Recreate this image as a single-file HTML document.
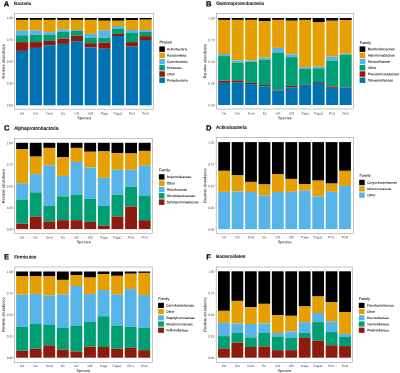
<!DOCTYPE html>
<html><head><meta charset="utf-8"><title>Relative abundance</title>
<style>
html,body{margin:0;padding:0;background:#fff;}
body{width:400px;height:373px;overflow:hidden;font-family:"Liberation Sans",sans-serif;}
svg{display:block;}
</style></head><body>
<svg width="400" height="373" viewBox="0 0 400 373" font-family="'Liberation Sans', sans-serif">
<defs><filter id="bl" x="-5%" y="-5%" width="110%" height="110%"><feGaussianBlur stdDeviation="0.36"/></filter></defs>
<rect x="0" y="0" width="400" height="373" fill="#ffffff"/>
<g filter="url(#bl)" text-rendering="geometricPrecision">
<g>
<text transform="rotate(0.1 3.85 6.45)" x="3.85" y="6.45" font-size="7.6" font-weight="bold" fill="#000" stroke="#000" stroke-width="0.2">A</text>
<text transform="rotate(0.1 14.0 4.9)" x="14.0" y="4.9" font-size="4.7" fill="#000" stroke="#000" stroke-width="0.14">Bacteria</text>
<rect x="16.00" y="18.00" width="12.20" height="1.90" fill="#000000"/>
<rect x="16.00" y="19.90" width="12.20" height="10.80" fill="#E69F00"/>
<rect x="16.00" y="30.70" width="12.20" height="4.60" fill="#56B4E9"/>
<rect x="16.00" y="35.30" width="12.20" height="6.80" fill="#009E73"/>
<rect x="16.00" y="42.10" width="12.20" height="8.80" fill="#8E1B0E"/>
<rect x="16.00" y="50.90" width="12.20" height="54.40" fill="#0072B2"/>
<rect x="29.72" y="18.00" width="12.20" height="1.90" fill="#000000"/>
<rect x="29.72" y="19.90" width="12.20" height="10.50" fill="#E69F00"/>
<rect x="29.72" y="30.40" width="12.20" height="4.40" fill="#56B4E9"/>
<rect x="29.72" y="34.80" width="12.20" height="7.30" fill="#009E73"/>
<rect x="29.72" y="42.10" width="12.20" height="5.80" fill="#8E1B0E"/>
<rect x="29.72" y="47.90" width="12.20" height="57.40" fill="#0072B2"/>
<rect x="43.44" y="18.00" width="12.20" height="1.90" fill="#000000"/>
<rect x="43.44" y="19.90" width="12.20" height="12.20" fill="#E69F00"/>
<rect x="43.44" y="32.10" width="12.20" height="2.70" fill="#56B4E9"/>
<rect x="43.44" y="34.80" width="12.20" height="6.10" fill="#009E73"/>
<rect x="43.44" y="40.90" width="12.20" height="4.40" fill="#8E1B0E"/>
<rect x="43.44" y="45.30" width="12.20" height="60.00" fill="#0072B2"/>
<rect x="57.16" y="18.00" width="12.20" height="1.90" fill="#000000"/>
<rect x="57.16" y="19.90" width="12.20" height="9.60" fill="#E69F00"/>
<rect x="57.16" y="29.50" width="12.20" height="2.30" fill="#56B4E9"/>
<rect x="57.16" y="31.80" width="12.20" height="6.80" fill="#009E73"/>
<rect x="57.16" y="38.60" width="12.20" height="5.30" fill="#8E1B0E"/>
<rect x="57.16" y="43.90" width="12.20" height="61.40" fill="#0072B2"/>
<rect x="70.88" y="18.00" width="12.20" height="1.90" fill="#000000"/>
<rect x="70.88" y="19.90" width="12.20" height="10.10" fill="#E69F00"/>
<rect x="70.88" y="30.00" width="12.20" height="0.90" fill="#56B4E9"/>
<rect x="70.88" y="30.90" width="12.20" height="4.70" fill="#009E73"/>
<rect x="70.88" y="35.60" width="12.20" height="5.60" fill="#8E1B0E"/>
<rect x="70.88" y="41.20" width="12.20" height="64.10" fill="#0072B2"/>
<rect x="84.60" y="18.00" width="12.20" height="1.90" fill="#000000"/>
<rect x="84.60" y="19.90" width="12.20" height="14.00" fill="#E69F00"/>
<rect x="84.60" y="33.90" width="12.20" height="4.00" fill="#56B4E9"/>
<rect x="84.60" y="37.90" width="12.20" height="5.30" fill="#009E73"/>
<rect x="84.60" y="43.20" width="12.20" height="4.20" fill="#8E1B0E"/>
<rect x="84.60" y="47.40" width="12.20" height="57.90" fill="#0072B2"/>
<rect x="98.32" y="18.00" width="12.20" height="2.75" fill="#000000"/>
<rect x="98.32" y="20.75" width="12.20" height="9.65" fill="#E69F00"/>
<rect x="98.32" y="30.40" width="12.20" height="7.50" fill="#56B4E9"/>
<rect x="98.32" y="37.90" width="12.20" height="4.70" fill="#009E73"/>
<rect x="98.32" y="42.60" width="12.20" height="6.15" fill="#8E1B0E"/>
<rect x="98.32" y="48.75" width="12.20" height="56.55" fill="#0072B2"/>
<rect x="112.04" y="18.00" width="12.20" height="2.75" fill="#000000"/>
<rect x="112.04" y="20.75" width="12.20" height="5.25" fill="#E69F00"/>
<rect x="112.04" y="26.00" width="12.20" height="2.60" fill="#56B4E9"/>
<rect x="112.04" y="28.60" width="12.20" height="5.30" fill="#009E73"/>
<rect x="112.04" y="33.90" width="12.20" height="2.10" fill="#8E1B0E"/>
<rect x="112.04" y="36.00" width="12.20" height="69.30" fill="#0072B2"/>
<rect x="125.76" y="18.00" width="12.20" height="2.05" fill="#000000"/>
<rect x="125.76" y="20.05" width="12.20" height="9.95" fill="#E69F00"/>
<rect x="125.76" y="30.00" width="12.20" height="3.00" fill="#56B4E9"/>
<rect x="125.76" y="33.00" width="12.20" height="9.10" fill="#009E73"/>
<rect x="125.76" y="42.10" width="12.20" height="4.55" fill="#8E1B0E"/>
<rect x="125.76" y="46.65" width="12.20" height="58.65" fill="#0072B2"/>
<rect x="139.48" y="18.00" width="12.20" height="1.70" fill="#000000"/>
<rect x="139.48" y="19.70" width="12.20" height="10.30" fill="#E69F00"/>
<rect x="139.48" y="30.00" width="12.20" height="1.80" fill="#56B4E9"/>
<rect x="139.48" y="31.80" width="12.20" height="4.35" fill="#009E73"/>
<rect x="139.48" y="36.15" width="12.20" height="3.85" fill="#8E1B0E"/>
<rect x="139.48" y="40.00" width="12.20" height="65.30" fill="#0072B2"/>
<rect x="14.6" y="13.3" width="139.20" height="95.80" fill="none" stroke="#333333" stroke-width="0.28"/>
<line x1="13.60" x2="14.60" y1="105.30" y2="105.30" stroke="#333333" stroke-width="0.2"/>
<text transform="rotate(0.1 12.80 106.40)" x="12.80" y="106.40" font-size="3.15" text-anchor="end" fill="#3c3c3c">0.00</text>
<line x1="13.60" x2="14.60" y1="83.47" y2="83.47" stroke="#333333" stroke-width="0.2"/>
<text transform="rotate(0.1 12.80 84.57)" x="12.80" y="84.57" font-size="3.15" text-anchor="end" fill="#3c3c3c">0.25</text>
<line x1="13.60" x2="14.60" y1="61.65" y2="61.65" stroke="#333333" stroke-width="0.2"/>
<text transform="rotate(0.1 12.80 62.75)" x="12.80" y="62.75" font-size="3.15" text-anchor="end" fill="#3c3c3c">0.50</text>
<line x1="13.60" x2="14.60" y1="39.83" y2="39.83" stroke="#333333" stroke-width="0.2"/>
<text transform="rotate(0.1 12.80 40.93)" x="12.80" y="40.93" font-size="3.15" text-anchor="end" fill="#3c3c3c">0.75</text>
<line x1="13.60" x2="14.60" y1="18.00" y2="18.00" stroke="#333333" stroke-width="0.2"/>
<text transform="rotate(0.1 12.80 19.10)" x="12.80" y="19.10" font-size="3.15" text-anchor="end" fill="#3c3c3c">1.00</text>
<line x1="22.10" x2="22.10" y1="109.10" y2="110.10" stroke="#333333" stroke-width="0.2"/>
<text transform="rotate(0.1 22.10 114.50)" x="22.10" y="114.50" font-size="3.15" text-anchor="middle" fill="#3c3c3c">Dd</text>
<line x1="35.82" x2="35.82" y1="109.10" y2="110.10" stroke="#333333" stroke-width="0.2"/>
<text transform="rotate(0.1 35.82 114.50)" x="35.82" y="114.50" font-size="3.15" text-anchor="middle" fill="#3c3c3c">Dm</text>
<line x1="49.54" x2="49.54" y1="109.10" y2="110.10" stroke="#333333" stroke-width="0.2"/>
<text transform="rotate(0.1 49.54 114.50)" x="49.54" y="114.50" font-size="3.15" text-anchor="middle" fill="#3c3c3c">Dmd</text>
<line x1="63.26" x2="63.26" y1="109.10" y2="110.10" stroke="#333333" stroke-width="0.2"/>
<text transform="rotate(0.1 63.26 114.50)" x="63.26" y="114.50" font-size="3.15" text-anchor="middle" fill="#3c3c3c">Eu</text>
<line x1="76.98" x2="76.98" y1="109.10" y2="110.10" stroke="#333333" stroke-width="0.2"/>
<text transform="rotate(0.1 76.98 114.50)" x="76.98" y="114.50" font-size="3.15" text-anchor="middle" fill="#3c3c3c">Isf1</text>
<line x1="90.70" x2="90.70" y1="109.10" y2="110.10" stroke="#333333" stroke-width="0.2"/>
<text transform="rotate(0.1 90.70 114.50)" x="90.70" y="114.50" font-size="3.15" text-anchor="middle" fill="#3c3c3c">Isf2</text>
<line x1="104.42" x2="104.42" y1="109.10" y2="110.10" stroke="#333333" stroke-width="0.2"/>
<text transform="rotate(0.1 104.42 114.50)" x="104.42" y="114.50" font-size="3.15" text-anchor="middle" fill="#3c3c3c">Paga</text>
<line x1="118.14" x2="118.14" y1="109.10" y2="110.10" stroke="#333333" stroke-width="0.2"/>
<text transform="rotate(0.1 118.14 114.50)" x="118.14" y="114.50" font-size="3.15" text-anchor="middle" fill="#3c3c3c">Paga1</text>
<line x1="131.86" x2="131.86" y1="109.10" y2="110.10" stroke="#333333" stroke-width="0.2"/>
<text transform="rotate(0.1 131.86 114.50)" x="131.86" y="114.50" font-size="3.15" text-anchor="middle" fill="#3c3c3c">Pm1</text>
<line x1="145.58" x2="145.58" y1="109.10" y2="110.10" stroke="#333333" stroke-width="0.2"/>
<text transform="rotate(0.1 145.58 114.50)" x="145.58" y="114.50" font-size="3.15" text-anchor="middle" fill="#3c3c3c">Pm2</text>
<text transform="rotate(0.1 84.20 119.20)" x="84.20" y="119.20" font-size="3.9" text-anchor="middle" fill="#000">Species</text>
<text transform="translate(4.70,61.20) rotate(-89.9)" font-size="3.9" text-anchor="middle" fill="#000">Relative abundance</text>
<text transform="rotate(0.1 159.6 43.40)" x="159.6" y="43.40" font-size="3.8" fill="#000" stroke="#000" stroke-width="0.04">Phylum</text>
<rect x="159.3" y="46.40" width="5.55" height="5.45" fill="#000000"/>
<text transform="rotate(0.1 166.95 50.27)" x="166.95" y="50.27" font-size="3.2" fill="#000" stroke="#000" stroke-width="0.05">Actinobacteria</text>
<rect x="159.3" y="52.62" width="5.55" height="5.45" fill="#E69F00"/>
<text transform="rotate(0.1 166.95 56.49)" x="166.95" y="56.49" font-size="3.2" fill="#000" stroke="#000" stroke-width="0.05">Bacteroidetes</text>
<rect x="159.3" y="58.84" width="5.55" height="5.45" fill="#56B4E9"/>
<text transform="rotate(0.1 166.95 62.71)" x="166.95" y="62.71" font-size="3.2" fill="#000" stroke="#000" stroke-width="0.05">Cyanobacteria</text>
<rect x="159.3" y="65.06" width="5.55" height="5.45" fill="#009E73"/>
<text transform="rotate(0.1 166.95 68.94)" x="166.95" y="68.94" font-size="3.2" fill="#000" stroke="#000" stroke-width="0.05">Firmicutes</text>
<rect x="159.3" y="71.28" width="5.55" height="5.45" fill="#8E1B0E"/>
<text transform="rotate(0.1 166.95 75.16)" x="166.95" y="75.16" font-size="3.2" fill="#000" stroke="#000" stroke-width="0.05">Other</text>
<rect x="159.3" y="77.50" width="5.55" height="5.45" fill="#0072B2"/>
<text transform="rotate(0.1 166.95 81.38)" x="166.95" y="81.38" font-size="3.2" fill="#000" stroke="#000" stroke-width="0.05">Proteobacteria</text>
</g>
<g>
<text transform="rotate(0.1 205.95 6.45)" x="205.95" y="6.45" font-size="7.6" font-weight="bold" fill="#000" stroke="#000" stroke-width="0.2">B</text>
<text transform="rotate(0.1 216.2 4.9)" x="216.2" y="4.9" font-size="4.8" fill="#000" stroke="#000" stroke-width="0.14">Gammaproteobacteria</text>
<rect x="218.15" y="18.00" width="12.00" height="1.90" fill="#000000"/>
<rect x="218.15" y="19.90" width="12.00" height="34.10" fill="#E69F00"/>
<rect x="218.15" y="54.00" width="12.00" height="2.10" fill="#56B4E9"/>
<rect x="218.15" y="56.10" width="12.00" height="24.50" fill="#009E73"/>
<rect x="218.15" y="80.60" width="12.00" height="2.30" fill="#8E1B0E"/>
<rect x="218.15" y="82.90" width="12.00" height="22.10" fill="#0072B2"/>
<rect x="231.65" y="18.00" width="12.00" height="1.90" fill="#000000"/>
<rect x="231.65" y="19.90" width="12.00" height="40.60" fill="#E69F00"/>
<rect x="231.65" y="60.50" width="12.00" height="2.10" fill="#56B4E9"/>
<rect x="231.65" y="62.60" width="12.00" height="17.70" fill="#009E73"/>
<rect x="231.65" y="80.30" width="12.00" height="1.90" fill="#8E1B0E"/>
<rect x="231.65" y="82.20" width="12.00" height="22.80" fill="#0072B2"/>
<rect x="245.15" y="18.00" width="12.00" height="1.90" fill="#000000"/>
<rect x="245.15" y="19.90" width="12.00" height="40.60" fill="#E69F00"/>
<rect x="245.15" y="60.50" width="12.00" height="1.40" fill="#56B4E9"/>
<rect x="245.15" y="61.90" width="12.00" height="21.00" fill="#009E73"/>
<rect x="245.15" y="82.90" width="12.00" height="1.20" fill="#8E1B0E"/>
<rect x="245.15" y="84.10" width="12.00" height="20.90" fill="#0072B2"/>
<rect x="258.65" y="18.00" width="12.00" height="3.10" fill="#000000"/>
<rect x="258.65" y="21.10" width="12.00" height="36.40" fill="#E69F00"/>
<rect x="258.65" y="57.50" width="12.00" height="2.10" fill="#56B4E9"/>
<rect x="258.65" y="59.60" width="12.00" height="25.40" fill="#009E73"/>
<rect x="258.65" y="85.00" width="12.00" height="1.40" fill="#8E1B0E"/>
<rect x="258.65" y="86.40" width="12.00" height="18.60" fill="#0072B2"/>
<rect x="272.15" y="18.00" width="12.00" height="1.90" fill="#000000"/>
<rect x="272.15" y="19.90" width="12.00" height="28.00" fill="#E69F00"/>
<rect x="272.15" y="47.90" width="12.00" height="4.70" fill="#56B4E9"/>
<rect x="272.15" y="52.60" width="12.00" height="36.80" fill="#009E73"/>
<rect x="272.15" y="89.40" width="12.00" height="0.85" fill="#8E1B0E"/>
<rect x="272.15" y="90.25" width="12.00" height="14.75" fill="#0072B2"/>
<rect x="285.65" y="18.00" width="12.00" height="2.75" fill="#000000"/>
<rect x="285.65" y="20.75" width="12.00" height="33.60" fill="#E69F00"/>
<rect x="285.65" y="54.35" width="12.00" height="2.80" fill="#56B4E9"/>
<rect x="285.65" y="57.15" width="12.00" height="28.75" fill="#009E73"/>
<rect x="285.65" y="85.90" width="12.00" height="1.70" fill="#8E1B0E"/>
<rect x="285.65" y="87.60" width="12.00" height="17.40" fill="#0072B2"/>
<rect x="299.15" y="18.00" width="12.00" height="1.90" fill="#000000"/>
<rect x="299.15" y="19.90" width="12.00" height="47.20" fill="#E69F00"/>
<rect x="299.15" y="67.10" width="12.00" height="1.80" fill="#56B4E9"/>
<rect x="299.15" y="68.90" width="12.00" height="15.20" fill="#009E73"/>
<rect x="299.15" y="84.10" width="12.00" height="0.55" fill="#8E1B0E"/>
<rect x="299.15" y="84.65" width="12.00" height="20.35" fill="#0072B2"/>
<rect x="312.65" y="18.00" width="12.00" height="4.00" fill="#000000"/>
<rect x="312.65" y="22.00" width="12.00" height="44.60" fill="#E69F00"/>
<rect x="312.65" y="66.60" width="12.00" height="1.75" fill="#56B4E9"/>
<rect x="312.65" y="68.35" width="12.00" height="13.65" fill="#009E73"/>
<rect x="312.65" y="82.00" width="12.00" height="0.90" fill="#8E1B0E"/>
<rect x="312.65" y="82.90" width="12.00" height="22.10" fill="#0072B2"/>
<rect x="326.15" y="18.00" width="12.00" height="2.75" fill="#000000"/>
<rect x="326.15" y="20.75" width="12.00" height="35.85" fill="#E69F00"/>
<rect x="326.15" y="56.60" width="12.00" height="4.05" fill="#56B4E9"/>
<rect x="326.15" y="60.65" width="12.00" height="25.75" fill="#009E73"/>
<rect x="326.15" y="86.40" width="12.00" height="1.40" fill="#8E1B0E"/>
<rect x="326.15" y="87.80" width="12.00" height="17.20" fill="#0072B2"/>
<rect x="339.65" y="18.00" width="12.00" height="2.05" fill="#000000"/>
<rect x="339.65" y="20.05" width="12.00" height="33.60" fill="#E69F00"/>
<rect x="339.65" y="53.65" width="12.00" height="1.05" fill="#56B4E9"/>
<rect x="339.65" y="54.70" width="12.00" height="32.60" fill="#009E73"/>
<rect x="339.65" y="87.30" width="12.00" height="0.50" fill="#8E1B0E"/>
<rect x="339.65" y="87.80" width="12.00" height="17.20" fill="#0072B2"/>
<rect x="216.2" y="13.3" width="137.30" height="95.70" fill="none" stroke="#333333" stroke-width="0.28"/>
<line x1="215.20" x2="216.20" y1="105.00" y2="105.00" stroke="#333333" stroke-width="0.2"/>
<text transform="rotate(0.1 214.40 106.55)" x="214.40" y="106.55" font-size="3.15" text-anchor="end" fill="#3c3c3c">0.00</text>
<line x1="215.20" x2="216.20" y1="83.25" y2="83.25" stroke="#333333" stroke-width="0.2"/>
<text transform="rotate(0.1 214.40 84.80)" x="214.40" y="84.80" font-size="3.15" text-anchor="end" fill="#3c3c3c">0.25</text>
<line x1="215.20" x2="216.20" y1="61.50" y2="61.50" stroke="#333333" stroke-width="0.2"/>
<text transform="rotate(0.1 214.40 63.05)" x="214.40" y="63.05" font-size="3.15" text-anchor="end" fill="#3c3c3c">0.50</text>
<line x1="215.20" x2="216.20" y1="39.75" y2="39.75" stroke="#333333" stroke-width="0.2"/>
<text transform="rotate(0.1 214.40 41.30)" x="214.40" y="41.30" font-size="3.15" text-anchor="end" fill="#3c3c3c">0.75</text>
<line x1="215.20" x2="216.20" y1="18.00" y2="18.00" stroke="#333333" stroke-width="0.2"/>
<text transform="rotate(0.1 214.40 19.55)" x="214.40" y="19.55" font-size="3.15" text-anchor="end" fill="#3c3c3c">1.00</text>
<line x1="224.15" x2="224.15" y1="109.00" y2="110.00" stroke="#333333" stroke-width="0.2"/>
<text transform="rotate(0.1 224.15 114.40)" x="224.15" y="114.40" font-size="3.15" text-anchor="middle" fill="#3c3c3c">Dd</text>
<line x1="237.65" x2="237.65" y1="109.00" y2="110.00" stroke="#333333" stroke-width="0.2"/>
<text transform="rotate(0.1 237.65 114.40)" x="237.65" y="114.40" font-size="3.15" text-anchor="middle" fill="#3c3c3c">Dm</text>
<line x1="251.15" x2="251.15" y1="109.00" y2="110.00" stroke="#333333" stroke-width="0.2"/>
<text transform="rotate(0.1 251.15 114.40)" x="251.15" y="114.40" font-size="3.15" text-anchor="middle" fill="#3c3c3c">Dmd</text>
<line x1="264.65" x2="264.65" y1="109.00" y2="110.00" stroke="#333333" stroke-width="0.2"/>
<text transform="rotate(0.1 264.65 114.40)" x="264.65" y="114.40" font-size="3.15" text-anchor="middle" fill="#3c3c3c">Eu</text>
<line x1="278.15" x2="278.15" y1="109.00" y2="110.00" stroke="#333333" stroke-width="0.2"/>
<text transform="rotate(0.1 278.15 114.40)" x="278.15" y="114.40" font-size="3.15" text-anchor="middle" fill="#3c3c3c">Isf1</text>
<line x1="291.65" x2="291.65" y1="109.00" y2="110.00" stroke="#333333" stroke-width="0.2"/>
<text transform="rotate(0.1 291.65 114.40)" x="291.65" y="114.40" font-size="3.15" text-anchor="middle" fill="#3c3c3c">Isf2</text>
<line x1="305.15" x2="305.15" y1="109.00" y2="110.00" stroke="#333333" stroke-width="0.2"/>
<text transform="rotate(0.1 305.15 114.40)" x="305.15" y="114.40" font-size="3.15" text-anchor="middle" fill="#3c3c3c">Paga</text>
<line x1="318.65" x2="318.65" y1="109.00" y2="110.00" stroke="#333333" stroke-width="0.2"/>
<text transform="rotate(0.1 318.65 114.40)" x="318.65" y="114.40" font-size="3.15" text-anchor="middle" fill="#3c3c3c">Paga1</text>
<line x1="332.15" x2="332.15" y1="109.00" y2="110.00" stroke="#333333" stroke-width="0.2"/>
<text transform="rotate(0.1 332.15 114.40)" x="332.15" y="114.40" font-size="3.15" text-anchor="middle" fill="#3c3c3c">Pm1</text>
<line x1="345.65" x2="345.65" y1="109.00" y2="110.00" stroke="#333333" stroke-width="0.2"/>
<text transform="rotate(0.1 345.65 114.40)" x="345.65" y="114.40" font-size="3.15" text-anchor="middle" fill="#3c3c3c">Pm2</text>
<text transform="rotate(0.1 284.85 119.20)" x="284.85" y="119.20" font-size="3.9" text-anchor="middle" fill="#000">Species</text>
<text transform="translate(206.30,61.15) rotate(-89.9)" font-size="3.9" text-anchor="middle" fill="#000">Relative abundance</text>
<text transform="rotate(0.1 359.7 44.00)" x="359.7" y="44.00" font-size="3.8" fill="#000" stroke="#000" stroke-width="0.04">Family</text>
<rect x="359.6" y="46.40" width="5.7" height="5.45" fill="#000000"/>
<text transform="rotate(0.1 367.9 50.27)" x="367.9" y="50.27" font-size="3.45" fill="#000" stroke="#000" stroke-width="0.05">Burkholderiaceae</text>
<rect x="359.6" y="52.62" width="5.7" height="5.45" fill="#E69F00"/>
<text transform="rotate(0.1 367.9 56.49)" x="367.9" y="56.49" font-size="3.45" fill="#000" stroke="#000" stroke-width="0.05">Halomonadaceae</text>
<rect x="359.6" y="58.84" width="5.7" height="5.45" fill="#56B4E9"/>
<text transform="rotate(0.1 367.9 62.71)" x="367.9" y="62.71" font-size="3.45" fill="#000" stroke="#000" stroke-width="0.05">Moraxellaceae</text>
<rect x="359.6" y="65.06" width="5.7" height="5.45" fill="#009E73"/>
<text transform="rotate(0.1 367.9 68.94)" x="367.9" y="68.94" font-size="3.45" fill="#000" stroke="#000" stroke-width="0.05">Other</text>
<rect x="359.6" y="71.28" width="5.7" height="5.45" fill="#8E1B0E"/>
<text transform="rotate(0.1 367.9 75.16)" x="367.9" y="75.16" font-size="3.45" fill="#000" stroke="#000" stroke-width="0.05">Pseudomonadaceae</text>
<rect x="359.6" y="77.50" width="5.7" height="5.45" fill="#0072B2"/>
<text transform="rotate(0.1 367.9 81.38)" x="367.9" y="81.38" font-size="3.45" fill="#000" stroke="#000" stroke-width="0.05">Shewanellaceae</text>
</g>
<g>
<text transform="rotate(0.1 3.9 130.6)" x="3.9" y="130.6" font-size="7.6" font-weight="bold" fill="#000" stroke="#000" stroke-width="0.2">C</text>
<text transform="rotate(0.1 14.2 129.9)" x="14.2" y="129.9" font-size="4.95" fill="#000" stroke="#000" stroke-width="0.14">Alphaproteobacteria</text>
<rect x="16.15" y="142.80" width="11.90" height="6.30" fill="#000000"/>
<rect x="16.15" y="149.10" width="11.90" height="34.15" fill="#E69F00"/>
<rect x="16.15" y="183.25" width="11.90" height="16.25" fill="#56B4E9"/>
<rect x="16.15" y="199.50" width="11.90" height="24.15" fill="#009E73"/>
<rect x="16.15" y="223.65" width="11.90" height="5.45" fill="#8E1B0E"/>
<rect x="29.77" y="142.80" width="11.90" height="13.85" fill="#000000"/>
<rect x="29.77" y="156.65" width="11.90" height="17.50" fill="#E69F00"/>
<rect x="29.77" y="174.15" width="11.90" height="18.25" fill="#56B4E9"/>
<rect x="29.77" y="192.40" width="11.90" height="24.10" fill="#009E73"/>
<rect x="29.77" y="216.50" width="11.90" height="12.60" fill="#8E1B0E"/>
<rect x="43.39" y="142.80" width="11.90" height="5.10" fill="#000000"/>
<rect x="43.39" y="147.90" width="11.90" height="17.50" fill="#E69F00"/>
<rect x="43.39" y="165.40" width="11.90" height="40.20" fill="#56B4E9"/>
<rect x="43.39" y="205.60" width="11.90" height="15.80" fill="#009E73"/>
<rect x="43.39" y="221.40" width="11.90" height="7.70" fill="#8E1B0E"/>
<rect x="57.01" y="142.80" width="11.90" height="14.55" fill="#000000"/>
<rect x="57.01" y="157.35" width="11.90" height="18.55" fill="#E69F00"/>
<rect x="57.01" y="175.90" width="11.90" height="20.50" fill="#56B4E9"/>
<rect x="57.01" y="196.40" width="11.90" height="23.75" fill="#009E73"/>
<rect x="57.01" y="220.15" width="11.90" height="8.95" fill="#8E1B0E"/>
<rect x="70.63" y="142.80" width="11.90" height="5.10" fill="#000000"/>
<rect x="70.63" y="147.90" width="11.90" height="14.00" fill="#E69F00"/>
<rect x="70.63" y="161.90" width="11.90" height="33.10" fill="#56B4E9"/>
<rect x="70.63" y="195.00" width="11.90" height="25.15" fill="#009E73"/>
<rect x="70.63" y="220.15" width="11.90" height="8.95" fill="#8E1B0E"/>
<rect x="84.25" y="142.80" width="11.90" height="8.95" fill="#000000"/>
<rect x="84.25" y="151.75" width="11.90" height="15.75" fill="#E69F00"/>
<rect x="84.25" y="167.50" width="11.90" height="31.10" fill="#56B4E9"/>
<rect x="84.25" y="198.60" width="11.90" height="23.30" fill="#009E73"/>
<rect x="84.25" y="221.90" width="11.90" height="7.20" fill="#8E1B0E"/>
<rect x="97.87" y="142.80" width="11.90" height="8.60" fill="#000000"/>
<rect x="97.87" y="151.40" width="11.90" height="26.40" fill="#E69F00"/>
<rect x="97.87" y="177.80" width="11.90" height="28.20" fill="#56B4E9"/>
<rect x="97.87" y="206.00" width="11.90" height="19.75" fill="#009E73"/>
<rect x="97.87" y="225.75" width="11.90" height="3.35" fill="#8E1B0E"/>
<rect x="111.49" y="142.80" width="11.90" height="10.35" fill="#000000"/>
<rect x="111.49" y="153.15" width="11.90" height="16.65" fill="#E69F00"/>
<rect x="111.49" y="169.80" width="11.90" height="24.80" fill="#56B4E9"/>
<rect x="111.49" y="194.60" width="11.90" height="21.90" fill="#009E73"/>
<rect x="111.49" y="216.50" width="11.90" height="12.60" fill="#8E1B0E"/>
<rect x="125.11" y="142.80" width="11.90" height="10.70" fill="#000000"/>
<rect x="125.11" y="153.50" width="11.90" height="16.30" fill="#E69F00"/>
<rect x="125.11" y="169.80" width="11.90" height="17.00" fill="#56B4E9"/>
<rect x="125.11" y="186.80" width="11.90" height="19.70" fill="#009E73"/>
<rect x="125.11" y="206.50" width="11.90" height="22.60" fill="#8E1B0E"/>
<rect x="138.73" y="142.80" width="11.90" height="8.10" fill="#000000"/>
<rect x="138.73" y="150.90" width="11.90" height="14.85" fill="#E69F00"/>
<rect x="138.73" y="165.75" width="11.90" height="29.85" fill="#56B4E9"/>
<rect x="138.73" y="195.60" width="11.90" height="24.55" fill="#009E73"/>
<rect x="138.73" y="220.15" width="11.90" height="8.95" fill="#8E1B0E"/>
<rect x="14.6" y="138.4" width="138.20" height="95.40" fill="none" stroke="#333333" stroke-width="0.28"/>
<line x1="13.60" x2="14.60" y1="229.10" y2="229.10" stroke="#333333" stroke-width="0.2"/>
<text transform="rotate(0.1 12.80 230.60)" x="12.80" y="230.60" font-size="3.15" text-anchor="end" fill="#3c3c3c">0.00</text>
<line x1="13.60" x2="14.60" y1="207.53" y2="207.53" stroke="#333333" stroke-width="0.2"/>
<text transform="rotate(0.1 12.80 209.03)" x="12.80" y="209.03" font-size="3.15" text-anchor="end" fill="#3c3c3c">0.25</text>
<line x1="13.60" x2="14.60" y1="185.95" y2="185.95" stroke="#333333" stroke-width="0.2"/>
<text transform="rotate(0.1 12.80 187.45)" x="12.80" y="187.45" font-size="3.15" text-anchor="end" fill="#3c3c3c">0.50</text>
<line x1="13.60" x2="14.60" y1="164.38" y2="164.38" stroke="#333333" stroke-width="0.2"/>
<text transform="rotate(0.1 12.80 165.88)" x="12.80" y="165.88" font-size="3.15" text-anchor="end" fill="#3c3c3c">0.75</text>
<line x1="13.60" x2="14.60" y1="142.80" y2="142.80" stroke="#333333" stroke-width="0.2"/>
<text transform="rotate(0.1 12.80 144.30)" x="12.80" y="144.30" font-size="3.15" text-anchor="end" fill="#3c3c3c">1.00</text>
<line x1="22.10" x2="22.10" y1="233.80" y2="234.80" stroke="#333333" stroke-width="0.2"/>
<text transform="rotate(0.1 22.10 238.60)" x="22.10" y="238.60" font-size="3.15" text-anchor="middle" fill="#3c3c3c">Dd</text>
<line x1="35.72" x2="35.72" y1="233.80" y2="234.80" stroke="#333333" stroke-width="0.2"/>
<text transform="rotate(0.1 35.72 238.60)" x="35.72" y="238.60" font-size="3.15" text-anchor="middle" fill="#3c3c3c">Dm</text>
<line x1="49.34" x2="49.34" y1="233.80" y2="234.80" stroke="#333333" stroke-width="0.2"/>
<text transform="rotate(0.1 49.34 238.60)" x="49.34" y="238.60" font-size="3.15" text-anchor="middle" fill="#3c3c3c">Dmd</text>
<line x1="62.96" x2="62.96" y1="233.80" y2="234.80" stroke="#333333" stroke-width="0.2"/>
<text transform="rotate(0.1 62.96 238.60)" x="62.96" y="238.60" font-size="3.15" text-anchor="middle" fill="#3c3c3c">Eu</text>
<line x1="76.58" x2="76.58" y1="233.80" y2="234.80" stroke="#333333" stroke-width="0.2"/>
<text transform="rotate(0.1 76.58 238.60)" x="76.58" y="238.60" font-size="3.15" text-anchor="middle" fill="#3c3c3c">Isf1</text>
<line x1="90.20" x2="90.20" y1="233.80" y2="234.80" stroke="#333333" stroke-width="0.2"/>
<text transform="rotate(0.1 90.20 238.60)" x="90.20" y="238.60" font-size="3.15" text-anchor="middle" fill="#3c3c3c">Isf2</text>
<line x1="103.82" x2="103.82" y1="233.80" y2="234.80" stroke="#333333" stroke-width="0.2"/>
<text transform="rotate(0.1 103.82 238.60)" x="103.82" y="238.60" font-size="3.15" text-anchor="middle" fill="#3c3c3c">Paga</text>
<line x1="117.44" x2="117.44" y1="233.80" y2="234.80" stroke="#333333" stroke-width="0.2"/>
<text transform="rotate(0.1 117.44 238.60)" x="117.44" y="238.60" font-size="3.15" text-anchor="middle" fill="#3c3c3c">Paga1</text>
<line x1="131.06" x2="131.06" y1="233.80" y2="234.80" stroke="#333333" stroke-width="0.2"/>
<text transform="rotate(0.1 131.06 238.60)" x="131.06" y="238.60" font-size="3.15" text-anchor="middle" fill="#3c3c3c">Pm1</text>
<line x1="144.68" x2="144.68" y1="233.80" y2="234.80" stroke="#333333" stroke-width="0.2"/>
<text transform="rotate(0.1 144.68 238.60)" x="144.68" y="238.60" font-size="3.15" text-anchor="middle" fill="#3c3c3c">Pm2</text>
<text transform="rotate(0.1 83.70 243.30)" x="83.70" y="243.30" font-size="3.9" text-anchor="middle" fill="#000">Species</text>
<text transform="translate(4.70,186.10) rotate(-89.9)" font-size="3.9" text-anchor="middle" fill="#000">Relative abundance</text>
<text transform="rotate(0.1 158.9 171.30)" x="158.9" y="171.30" font-size="3.8" fill="#000" stroke="#000" stroke-width="0.04">Family</text>
<rect x="158.9" y="174.20" width="5.55" height="5.45" fill="#000000"/>
<text transform="rotate(0.1 166.7 178.07)" x="166.7" y="178.07" font-size="3.4" fill="#000" stroke="#000" stroke-width="0.05">Beijerinckiaceae</text>
<rect x="158.9" y="180.50" width="5.55" height="5.45" fill="#E69F00"/>
<text transform="rotate(0.1 166.7 184.38)" x="166.7" y="184.38" font-size="3.4" fill="#000" stroke="#000" stroke-width="0.05">Other</text>
<rect x="158.9" y="186.80" width="5.55" height="5.45" fill="#56B4E9"/>
<text transform="rotate(0.1 166.7 190.67)" x="166.7" y="190.67" font-size="3.4" fill="#000" stroke="#000" stroke-width="0.05">Rhizobiaceae</text>
<rect x="158.9" y="193.10" width="5.55" height="5.45" fill="#009E73"/>
<text transform="rotate(0.1 166.7 196.97)" x="166.7" y="196.97" font-size="3.4" fill="#000" stroke="#000" stroke-width="0.05">Rhodobacteraceae</text>
<rect x="158.9" y="199.40" width="5.55" height="5.45" fill="#8E1B0E"/>
<text transform="rotate(0.1 166.7 203.27)" x="166.7" y="203.27" font-size="3.4" fill="#000" stroke="#000" stroke-width="0.05">Sphingomonadaceae</text>
</g>
<g>
<text transform="rotate(0.1 206.0 130.6)" x="206.0" y="130.6" font-size="7.6" font-weight="bold" fill="#000" stroke="#000" stroke-width="0.2">D</text>
<text transform="rotate(0.1 216.0 128.9)" x="216.0" y="128.9" font-size="4.85" fill="#000" stroke="#000" stroke-width="0.14">Actinobacteria</text>
<rect x="218.25" y="142.10" width="11.80" height="28.75" fill="#000000"/>
<rect x="218.25" y="170.85" width="11.80" height="21.00" fill="#E69F00"/>
<rect x="218.25" y="191.85" width="11.80" height="37.25" fill="#56B4E9"/>
<rect x="231.68" y="142.10" width="11.80" height="33.30" fill="#000000"/>
<rect x="231.68" y="175.40" width="11.80" height="16.10" fill="#E69F00"/>
<rect x="231.68" y="191.50" width="11.80" height="37.60" fill="#56B4E9"/>
<rect x="245.11" y="142.10" width="11.80" height="39.80" fill="#000000"/>
<rect x="245.11" y="181.90" width="11.80" height="10.10" fill="#E69F00"/>
<rect x="245.11" y="192.00" width="11.80" height="37.10" fill="#56B4E9"/>
<rect x="258.54" y="142.10" width="11.80" height="42.40" fill="#000000"/>
<rect x="258.54" y="184.50" width="11.80" height="11.00" fill="#E69F00"/>
<rect x="258.54" y="195.50" width="11.80" height="33.60" fill="#56B4E9"/>
<rect x="271.97" y="142.10" width="11.80" height="31.90" fill="#000000"/>
<rect x="271.97" y="174.00" width="11.80" height="18.00" fill="#E69F00"/>
<rect x="271.97" y="192.00" width="11.80" height="37.10" fill="#56B4E9"/>
<rect x="285.40" y="142.10" width="11.80" height="36.80" fill="#000000"/>
<rect x="285.40" y="178.90" width="11.80" height="12.95" fill="#E69F00"/>
<rect x="285.40" y="191.85" width="11.80" height="37.25" fill="#56B4E9"/>
<rect x="298.83" y="142.10" width="11.80" height="41.90" fill="#000000"/>
<rect x="298.83" y="184.00" width="11.80" height="6.60" fill="#E69F00"/>
<rect x="298.83" y="190.60" width="11.80" height="38.50" fill="#56B4E9"/>
<rect x="312.26" y="142.10" width="11.80" height="38.55" fill="#000000"/>
<rect x="312.26" y="180.65" width="11.80" height="15.75" fill="#E69F00"/>
<rect x="312.26" y="196.40" width="11.80" height="32.70" fill="#56B4E9"/>
<rect x="325.69" y="142.10" width="11.80" height="41.50" fill="#000000"/>
<rect x="325.69" y="183.60" width="11.80" height="8.25" fill="#E69F00"/>
<rect x="325.69" y="191.85" width="11.80" height="37.25" fill="#56B4E9"/>
<rect x="339.12" y="142.10" width="11.80" height="28.75" fill="#000000"/>
<rect x="339.12" y="170.85" width="11.80" height="15.05" fill="#E69F00"/>
<rect x="339.12" y="185.90" width="11.80" height="43.20" fill="#56B4E9"/>
<rect x="216.1" y="137.6" width="137.10" height="95.90" fill="none" stroke="#333333" stroke-width="0.28"/>
<line x1="215.10" x2="216.10" y1="229.10" y2="229.10" stroke="#333333" stroke-width="0.2"/>
<text transform="rotate(0.1 214.30 230.65)" x="214.30" y="230.65" font-size="3.15" text-anchor="end" fill="#3c3c3c">0.00</text>
<line x1="215.10" x2="216.10" y1="207.35" y2="207.35" stroke="#333333" stroke-width="0.2"/>
<text transform="rotate(0.1 214.30 208.90)" x="214.30" y="208.90" font-size="3.15" text-anchor="end" fill="#3c3c3c">0.25</text>
<line x1="215.10" x2="216.10" y1="185.60" y2="185.60" stroke="#333333" stroke-width="0.2"/>
<text transform="rotate(0.1 214.30 187.15)" x="214.30" y="187.15" font-size="3.15" text-anchor="end" fill="#3c3c3c">0.50</text>
<line x1="215.10" x2="216.10" y1="163.85" y2="163.85" stroke="#333333" stroke-width="0.2"/>
<text transform="rotate(0.1 214.30 165.40)" x="214.30" y="165.40" font-size="3.15" text-anchor="end" fill="#3c3c3c">0.75</text>
<line x1="215.10" x2="216.10" y1="142.10" y2="142.10" stroke="#333333" stroke-width="0.2"/>
<text transform="rotate(0.1 214.30 143.65)" x="214.30" y="143.65" font-size="3.15" text-anchor="end" fill="#3c3c3c">1.00</text>
<line x1="224.15" x2="224.15" y1="233.50" y2="234.50" stroke="#333333" stroke-width="0.2"/>
<text transform="rotate(0.1 224.15 238.30)" x="224.15" y="238.30" font-size="3.15" text-anchor="middle" fill="#3c3c3c">Dd</text>
<line x1="237.58" x2="237.58" y1="233.50" y2="234.50" stroke="#333333" stroke-width="0.2"/>
<text transform="rotate(0.1 237.58 238.30)" x="237.58" y="238.30" font-size="3.15" text-anchor="middle" fill="#3c3c3c">Dm</text>
<line x1="251.01" x2="251.01" y1="233.50" y2="234.50" stroke="#333333" stroke-width="0.2"/>
<text transform="rotate(0.1 251.01 238.30)" x="251.01" y="238.30" font-size="3.15" text-anchor="middle" fill="#3c3c3c">Dmd</text>
<line x1="264.44" x2="264.44" y1="233.50" y2="234.50" stroke="#333333" stroke-width="0.2"/>
<text transform="rotate(0.1 264.44 238.30)" x="264.44" y="238.30" font-size="3.15" text-anchor="middle" fill="#3c3c3c">Eu</text>
<line x1="277.87" x2="277.87" y1="233.50" y2="234.50" stroke="#333333" stroke-width="0.2"/>
<text transform="rotate(0.1 277.87 238.30)" x="277.87" y="238.30" font-size="3.15" text-anchor="middle" fill="#3c3c3c">Isf1</text>
<line x1="291.30" x2="291.30" y1="233.50" y2="234.50" stroke="#333333" stroke-width="0.2"/>
<text transform="rotate(0.1 291.30 238.30)" x="291.30" y="238.30" font-size="3.15" text-anchor="middle" fill="#3c3c3c">Isf2</text>
<line x1="304.73" x2="304.73" y1="233.50" y2="234.50" stroke="#333333" stroke-width="0.2"/>
<text transform="rotate(0.1 304.73 238.30)" x="304.73" y="238.30" font-size="3.15" text-anchor="middle" fill="#3c3c3c">Paga</text>
<line x1="318.16" x2="318.16" y1="233.50" y2="234.50" stroke="#333333" stroke-width="0.2"/>
<text transform="rotate(0.1 318.16 238.30)" x="318.16" y="238.30" font-size="3.15" text-anchor="middle" fill="#3c3c3c">Paga1</text>
<line x1="331.59" x2="331.59" y1="233.50" y2="234.50" stroke="#333333" stroke-width="0.2"/>
<text transform="rotate(0.1 331.59 238.30)" x="331.59" y="238.30" font-size="3.15" text-anchor="middle" fill="#3c3c3c">Pm1</text>
<line x1="345.02" x2="345.02" y1="233.50" y2="234.50" stroke="#333333" stroke-width="0.2"/>
<text transform="rotate(0.1 345.02 238.30)" x="345.02" y="238.30" font-size="3.15" text-anchor="middle" fill="#3c3c3c">Pm2</text>
<text transform="rotate(0.1 284.65 243.30)" x="284.65" y="243.30" font-size="3.9" text-anchor="middle" fill="#000">Species</text>
<text transform="translate(206.20,185.55) rotate(-89.9)" font-size="3.9" text-anchor="middle" fill="#000">Relative abundance</text>
<text transform="rotate(0.1 359.5 176.80)" x="359.5" y="176.80" font-size="3.8" fill="#000" stroke="#000" stroke-width="0.04">Family</text>
<rect x="359.2" y="179.80" width="5.5" height="5.45" fill="#000000"/>
<text transform="rotate(0.1 367.2 183.68)" x="367.2" y="183.68" font-size="3.35" fill="#000" stroke="#000" stroke-width="0.05">Corynebacteriaceae</text>
<rect x="359.2" y="186.10" width="5.5" height="5.45" fill="#E69F00"/>
<text transform="rotate(0.1 367.2 189.98)" x="367.2" y="189.98" font-size="3.35" fill="#000" stroke="#000" stroke-width="0.05">Micrococcaceae</text>
<rect x="359.2" y="192.40" width="5.5" height="5.45" fill="#56B4E9"/>
<text transform="rotate(0.1 367.2 196.28)" x="367.2" y="196.28" font-size="3.35" fill="#000" stroke="#000" stroke-width="0.05">Other</text>
</g>
<g>
<text transform="rotate(0.1 4.0 259.6)" x="4.0" y="259.6" font-size="7.6" font-weight="bold" fill="#000" stroke="#000" stroke-width="0.2">E</text>
<text transform="rotate(0.1 14.2 258.5)" x="14.2" y="258.5" font-size="4.8" fill="#000" stroke="#000" stroke-width="0.14">Firmicutes</text>
<rect x="16.15" y="271.50" width="11.90" height="4.50" fill="#000000"/>
<rect x="16.15" y="276.00" width="11.90" height="18.75" fill="#E69F00"/>
<rect x="16.15" y="294.75" width="11.90" height="32.00" fill="#56B4E9"/>
<rect x="16.15" y="326.75" width="11.90" height="24.10" fill="#009E73"/>
<rect x="16.15" y="350.85" width="11.90" height="6.85" fill="#8E1B0E"/>
<rect x="29.72" y="271.50" width="11.90" height="4.50" fill="#000000"/>
<rect x="29.72" y="276.00" width="11.90" height="17.90" fill="#E69F00"/>
<rect x="29.72" y="293.90" width="11.90" height="29.60" fill="#56B4E9"/>
<rect x="29.72" y="323.50" width="11.90" height="25.25" fill="#009E73"/>
<rect x="29.72" y="348.75" width="11.90" height="8.95" fill="#8E1B0E"/>
<rect x="43.29" y="271.50" width="11.90" height="4.90" fill="#000000"/>
<rect x="43.29" y="276.40" width="11.90" height="19.20" fill="#E69F00"/>
<rect x="43.29" y="295.60" width="11.90" height="29.40" fill="#56B4E9"/>
<rect x="43.29" y="325.00" width="11.90" height="20.25" fill="#009E73"/>
<rect x="43.29" y="345.25" width="11.90" height="12.45" fill="#8E1B0E"/>
<rect x="56.86" y="271.50" width="11.90" height="8.40" fill="#000000"/>
<rect x="56.86" y="279.90" width="11.90" height="14.50" fill="#E69F00"/>
<rect x="56.86" y="294.40" width="11.90" height="33.60" fill="#56B4E9"/>
<rect x="56.86" y="328.00" width="11.90" height="21.60" fill="#009E73"/>
<rect x="56.86" y="349.60" width="11.90" height="8.10" fill="#8E1B0E"/>
<rect x="70.43" y="271.50" width="11.90" height="3.50" fill="#000000"/>
<rect x="70.43" y="275.00" width="11.90" height="11.00" fill="#E69F00"/>
<rect x="70.43" y="286.00" width="11.90" height="40.00" fill="#56B4E9"/>
<rect x="70.43" y="326.00" width="11.90" height="25.40" fill="#009E73"/>
<rect x="70.43" y="351.40" width="11.90" height="6.30" fill="#8E1B0E"/>
<rect x="84.00" y="271.50" width="11.90" height="6.10" fill="#000000"/>
<rect x="84.00" y="277.60" width="11.90" height="16.30" fill="#E69F00"/>
<rect x="84.00" y="293.90" width="11.90" height="28.10" fill="#56B4E9"/>
<rect x="84.00" y="322.00" width="11.90" height="24.65" fill="#009E73"/>
<rect x="84.00" y="346.65" width="11.90" height="11.05" fill="#8E1B0E"/>
<rect x="97.57" y="271.50" width="11.90" height="2.60" fill="#000000"/>
<rect x="97.57" y="274.10" width="11.90" height="15.90" fill="#E69F00"/>
<rect x="97.57" y="290.00" width="11.90" height="26.25" fill="#56B4E9"/>
<rect x="97.57" y="316.25" width="11.90" height="30.75" fill="#009E73"/>
<rect x="97.57" y="347.00" width="11.90" height="10.70" fill="#8E1B0E"/>
<rect x="111.14" y="271.50" width="11.90" height="4.35" fill="#000000"/>
<rect x="111.14" y="275.85" width="11.90" height="18.55" fill="#E69F00"/>
<rect x="111.14" y="294.40" width="11.90" height="31.10" fill="#56B4E9"/>
<rect x="111.14" y="325.50" width="11.90" height="23.25" fill="#009E73"/>
<rect x="111.14" y="348.75" width="11.90" height="8.95" fill="#8E1B0E"/>
<rect x="124.71" y="271.50" width="11.90" height="2.25" fill="#000000"/>
<rect x="124.71" y="273.75" width="11.90" height="15.40" fill="#E69F00"/>
<rect x="124.71" y="289.15" width="11.90" height="37.60" fill="#56B4E9"/>
<rect x="124.71" y="326.75" width="11.90" height="21.15" fill="#009E73"/>
<rect x="124.71" y="347.90" width="11.90" height="9.80" fill="#8E1B0E"/>
<rect x="138.28" y="271.50" width="11.90" height="1.40" fill="#000000"/>
<rect x="138.28" y="272.90" width="11.90" height="22.20" fill="#E69F00"/>
<rect x="138.28" y="295.10" width="11.90" height="32.80" fill="#56B4E9"/>
<rect x="138.28" y="327.90" width="11.90" height="22.25" fill="#009E73"/>
<rect x="138.28" y="350.15" width="11.90" height="7.55" fill="#8E1B0E"/>
<rect x="14.6" y="267.0" width="137.60" height="95.30" fill="none" stroke="#333333" stroke-width="0.28"/>
<line x1="13.60" x2="14.60" y1="357.70" y2="357.70" stroke="#333333" stroke-width="0.2"/>
<text transform="rotate(0.1 12.80 359.10)" x="12.80" y="359.10" font-size="3.15" text-anchor="end" fill="#3c3c3c">0.00</text>
<line x1="13.60" x2="14.60" y1="336.15" y2="336.15" stroke="#333333" stroke-width="0.2"/>
<text transform="rotate(0.1 12.80 337.55)" x="12.80" y="337.55" font-size="3.15" text-anchor="end" fill="#3c3c3c">0.25</text>
<line x1="13.60" x2="14.60" y1="314.60" y2="314.60" stroke="#333333" stroke-width="0.2"/>
<text transform="rotate(0.1 12.80 316.00)" x="12.80" y="316.00" font-size="3.15" text-anchor="end" fill="#3c3c3c">0.50</text>
<line x1="13.60" x2="14.60" y1="293.05" y2="293.05" stroke="#333333" stroke-width="0.2"/>
<text transform="rotate(0.1 12.80 294.45)" x="12.80" y="294.45" font-size="3.15" text-anchor="end" fill="#3c3c3c">0.75</text>
<line x1="13.60" x2="14.60" y1="271.50" y2="271.50" stroke="#333333" stroke-width="0.2"/>
<text transform="rotate(0.1 12.80 272.90)" x="12.80" y="272.90" font-size="3.15" text-anchor="end" fill="#3c3c3c">1.00</text>
<line x1="22.10" x2="22.10" y1="362.30" y2="363.30" stroke="#333333" stroke-width="0.2"/>
<text transform="rotate(0.1 22.10 367.05)" x="22.10" y="367.05" font-size="3.15" text-anchor="middle" fill="#3c3c3c">Dd</text>
<line x1="35.67" x2="35.67" y1="362.30" y2="363.30" stroke="#333333" stroke-width="0.2"/>
<text transform="rotate(0.1 35.67 367.05)" x="35.67" y="367.05" font-size="3.15" text-anchor="middle" fill="#3c3c3c">Dm</text>
<line x1="49.24" x2="49.24" y1="362.30" y2="363.30" stroke="#333333" stroke-width="0.2"/>
<text transform="rotate(0.1 49.24 367.05)" x="49.24" y="367.05" font-size="3.15" text-anchor="middle" fill="#3c3c3c">Dmd</text>
<line x1="62.81" x2="62.81" y1="362.30" y2="363.30" stroke="#333333" stroke-width="0.2"/>
<text transform="rotate(0.1 62.81 367.05)" x="62.81" y="367.05" font-size="3.15" text-anchor="middle" fill="#3c3c3c">Eu</text>
<line x1="76.38" x2="76.38" y1="362.30" y2="363.30" stroke="#333333" stroke-width="0.2"/>
<text transform="rotate(0.1 76.38 367.05)" x="76.38" y="367.05" font-size="3.15" text-anchor="middle" fill="#3c3c3c">Isf1</text>
<line x1="89.95" x2="89.95" y1="362.30" y2="363.30" stroke="#333333" stroke-width="0.2"/>
<text transform="rotate(0.1 89.95 367.05)" x="89.95" y="367.05" font-size="3.15" text-anchor="middle" fill="#3c3c3c">Isf2</text>
<line x1="103.52" x2="103.52" y1="362.30" y2="363.30" stroke="#333333" stroke-width="0.2"/>
<text transform="rotate(0.1 103.52 367.05)" x="103.52" y="367.05" font-size="3.15" text-anchor="middle" fill="#3c3c3c">Paga</text>
<line x1="117.09" x2="117.09" y1="362.30" y2="363.30" stroke="#333333" stroke-width="0.2"/>
<text transform="rotate(0.1 117.09 367.05)" x="117.09" y="367.05" font-size="3.15" text-anchor="middle" fill="#3c3c3c">Paga1</text>
<line x1="130.66" x2="130.66" y1="362.30" y2="363.30" stroke="#333333" stroke-width="0.2"/>
<text transform="rotate(0.1 130.66 367.05)" x="130.66" y="367.05" font-size="3.15" text-anchor="middle" fill="#3c3c3c">Pm1</text>
<line x1="144.23" x2="144.23" y1="362.30" y2="363.30" stroke="#333333" stroke-width="0.2"/>
<text transform="rotate(0.1 144.23 367.05)" x="144.23" y="367.05" font-size="3.15" text-anchor="middle" fill="#3c3c3c">Pm2</text>
<text transform="rotate(0.1 83.40 371.90)" x="83.40" y="371.90" font-size="3.9" text-anchor="middle" fill="#000">Species</text>
<text transform="translate(4.70,314.65) rotate(-89.9)" font-size="3.9" text-anchor="middle" fill="#000">Relative abundance</text>
<text transform="rotate(0.1 158.2 300.00)" x="158.2" y="300.00" font-size="3.8" fill="#000" stroke="#000" stroke-width="0.04">Family</text>
<rect x="158.1" y="302.80" width="5.8" height="5.2" fill="#000000"/>
<text transform="rotate(0.1 166.1 306.55)" x="166.1" y="306.55" font-size="3.3" fill="#000" stroke="#000" stroke-width="0.05">Carnobacteriaceae</text>
<rect x="158.1" y="309.00" width="5.8" height="5.2" fill="#E69F00"/>
<text transform="rotate(0.1 166.1 312.75)" x="166.1" y="312.75" font-size="3.3" fill="#000" stroke="#000" stroke-width="0.05">Other</text>
<rect x="158.1" y="315.20" width="5.8" height="5.2" fill="#56B4E9"/>
<text transform="rotate(0.1 166.1 318.95)" x="166.1" y="318.95" font-size="3.3" fill="#000" stroke="#000" stroke-width="0.05">Staphylococcaceae</text>
<rect x="158.1" y="321.40" width="5.8" height="5.2" fill="#009E73"/>
<text transform="rotate(0.1 166.1 325.15)" x="166.1" y="325.15" font-size="3.3" fill="#000" stroke="#000" stroke-width="0.05">Streptococcaceae</text>
<rect x="158.1" y="327.60" width="5.8" height="5.2" fill="#8E1B0E"/>
<text transform="rotate(0.1 166.1 331.35)" x="166.1" y="331.35" font-size="3.3" fill="#000" stroke="#000" stroke-width="0.05">Veillonellaceae</text>
</g>
<g>
<text transform="rotate(0.1 206.2 259.6)" x="206.2" y="259.6" font-size="7.6" font-weight="bold" fill="#000" stroke="#000" stroke-width="0.2">F</text>
<text transform="rotate(0.1 216.0 258.0)" x="216.0" y="258.0" font-size="4.8" fill="#000" stroke="#000" stroke-width="0.14">Bacteroidetes</text>
<rect x="218.00" y="271.30" width="11.80" height="39.55" fill="#000000"/>
<rect x="218.00" y="310.85" width="11.80" height="12.05" fill="#E69F00"/>
<rect x="218.00" y="322.90" width="11.80" height="13.25" fill="#56B4E9"/>
<rect x="218.00" y="336.15" width="11.80" height="12.25" fill="#009E73"/>
<rect x="218.00" y="348.40" width="11.80" height="9.30" fill="#8E1B0E"/>
<rect x="231.46" y="271.30" width="11.80" height="29.60" fill="#000000"/>
<rect x="231.46" y="300.90" width="11.80" height="22.60" fill="#E69F00"/>
<rect x="231.46" y="323.50" width="11.80" height="9.50" fill="#56B4E9"/>
<rect x="231.46" y="333.00" width="11.80" height="9.60" fill="#009E73"/>
<rect x="231.46" y="342.60" width="11.80" height="15.10" fill="#8E1B0E"/>
<rect x="244.92" y="271.30" width="11.80" height="36.00" fill="#000000"/>
<rect x="244.92" y="307.30" width="11.80" height="16.70" fill="#E69F00"/>
<rect x="244.92" y="324.00" width="11.80" height="13.40" fill="#56B4E9"/>
<rect x="244.92" y="337.40" width="11.80" height="9.60" fill="#009E73"/>
<rect x="244.92" y="347.00" width="11.80" height="10.70" fill="#8E1B0E"/>
<rect x="258.38" y="271.30" width="11.80" height="32.55" fill="#000000"/>
<rect x="258.38" y="303.85" width="11.80" height="19.65" fill="#E69F00"/>
<rect x="258.38" y="323.50" width="11.80" height="9.50" fill="#56B4E9"/>
<rect x="258.38" y="333.00" width="11.80" height="13.50" fill="#009E73"/>
<rect x="258.38" y="346.50" width="11.80" height="11.20" fill="#8E1B0E"/>
<rect x="271.84" y="271.30" width="11.80" height="43.70" fill="#000000"/>
<rect x="271.84" y="315.00" width="11.80" height="18.00" fill="#E69F00"/>
<rect x="271.84" y="333.00" width="11.80" height="3.50" fill="#56B4E9"/>
<rect x="271.84" y="336.50" width="11.80" height="13.65" fill="#009E73"/>
<rect x="271.84" y="350.15" width="11.80" height="7.55" fill="#8E1B0E"/>
<rect x="285.30" y="271.30" width="11.80" height="44.50" fill="#000000"/>
<rect x="285.30" y="315.80" width="11.80" height="15.80" fill="#E69F00"/>
<rect x="285.30" y="331.60" width="11.80" height="6.30" fill="#56B4E9"/>
<rect x="285.30" y="337.90" width="11.80" height="12.25" fill="#009E73"/>
<rect x="285.30" y="350.15" width="11.80" height="7.55" fill="#8E1B0E"/>
<rect x="298.76" y="271.30" width="11.80" height="35.15" fill="#000000"/>
<rect x="298.76" y="306.45" width="11.80" height="15.75" fill="#E69F00"/>
<rect x="298.76" y="322.20" width="11.80" height="10.45" fill="#56B4E9"/>
<rect x="298.76" y="332.65" width="11.80" height="5.25" fill="#009E73"/>
<rect x="298.76" y="337.90" width="11.80" height="19.80" fill="#8E1B0E"/>
<rect x="312.22" y="271.30" width="11.80" height="25.20" fill="#000000"/>
<rect x="312.22" y="296.50" width="11.80" height="16.50" fill="#E69F00"/>
<rect x="312.22" y="313.00" width="11.80" height="9.10" fill="#56B4E9"/>
<rect x="312.22" y="322.10" width="11.80" height="18.40" fill="#009E73"/>
<rect x="312.22" y="340.50" width="11.80" height="17.20" fill="#8E1B0E"/>
<rect x="325.68" y="271.30" width="11.80" height="30.80" fill="#000000"/>
<rect x="325.68" y="302.10" width="11.80" height="19.20" fill="#E69F00"/>
<rect x="325.68" y="321.30" width="11.80" height="10.80" fill="#56B4E9"/>
<rect x="325.68" y="332.10" width="11.80" height="13.15" fill="#009E73"/>
<rect x="325.68" y="345.25" width="11.80" height="12.45" fill="#8E1B0E"/>
<rect x="339.14" y="271.30" width="11.80" height="40.70" fill="#000000"/>
<rect x="339.14" y="312.00" width="11.80" height="21.90" fill="#E69F00"/>
<rect x="339.14" y="333.90" width="11.80" height="3.10" fill="#56B4E9"/>
<rect x="339.14" y="337.00" width="11.80" height="9.10" fill="#009E73"/>
<rect x="339.14" y="346.10" width="11.80" height="11.60" fill="#8E1B0E"/>
<rect x="216.1" y="267.0" width="136.60" height="95.30" fill="none" stroke="#333333" stroke-width="0.28"/>
<line x1="215.10" x2="216.10" y1="357.70" y2="357.70" stroke="#333333" stroke-width="0.2"/>
<text transform="rotate(0.1 214.30 359.10)" x="214.30" y="359.10" font-size="3.15" text-anchor="end" fill="#3c3c3c">0.00</text>
<line x1="215.10" x2="216.10" y1="336.10" y2="336.10" stroke="#333333" stroke-width="0.2"/>
<text transform="rotate(0.1 214.30 337.50)" x="214.30" y="337.50" font-size="3.15" text-anchor="end" fill="#3c3c3c">0.25</text>
<line x1="215.10" x2="216.10" y1="314.50" y2="314.50" stroke="#333333" stroke-width="0.2"/>
<text transform="rotate(0.1 214.30 315.90)" x="214.30" y="315.90" font-size="3.15" text-anchor="end" fill="#3c3c3c">0.50</text>
<line x1="215.10" x2="216.10" y1="292.90" y2="292.90" stroke="#333333" stroke-width="0.2"/>
<text transform="rotate(0.1 214.30 294.30)" x="214.30" y="294.30" font-size="3.15" text-anchor="end" fill="#3c3c3c">0.75</text>
<line x1="215.10" x2="216.10" y1="271.30" y2="271.30" stroke="#333333" stroke-width="0.2"/>
<text transform="rotate(0.1 214.30 272.70)" x="214.30" y="272.70" font-size="3.15" text-anchor="end" fill="#3c3c3c">1.00</text>
<line x1="223.90" x2="223.90" y1="362.30" y2="363.30" stroke="#333333" stroke-width="0.2"/>
<text transform="rotate(0.1 223.90 367.05)" x="223.90" y="367.05" font-size="3.15" text-anchor="middle" fill="#3c3c3c">Dd</text>
<line x1="237.36" x2="237.36" y1="362.30" y2="363.30" stroke="#333333" stroke-width="0.2"/>
<text transform="rotate(0.1 237.36 367.05)" x="237.36" y="367.05" font-size="3.15" text-anchor="middle" fill="#3c3c3c">Dm</text>
<line x1="250.82" x2="250.82" y1="362.30" y2="363.30" stroke="#333333" stroke-width="0.2"/>
<text transform="rotate(0.1 250.82 367.05)" x="250.82" y="367.05" font-size="3.15" text-anchor="middle" fill="#3c3c3c">Dmd</text>
<line x1="264.28" x2="264.28" y1="362.30" y2="363.30" stroke="#333333" stroke-width="0.2"/>
<text transform="rotate(0.1 264.28 367.05)" x="264.28" y="367.05" font-size="3.15" text-anchor="middle" fill="#3c3c3c">Eu</text>
<line x1="277.74" x2="277.74" y1="362.30" y2="363.30" stroke="#333333" stroke-width="0.2"/>
<text transform="rotate(0.1 277.74 367.05)" x="277.74" y="367.05" font-size="3.15" text-anchor="middle" fill="#3c3c3c">Isf1</text>
<line x1="291.20" x2="291.20" y1="362.30" y2="363.30" stroke="#333333" stroke-width="0.2"/>
<text transform="rotate(0.1 291.20 367.05)" x="291.20" y="367.05" font-size="3.15" text-anchor="middle" fill="#3c3c3c">Isf2</text>
<line x1="304.66" x2="304.66" y1="362.30" y2="363.30" stroke="#333333" stroke-width="0.2"/>
<text transform="rotate(0.1 304.66 367.05)" x="304.66" y="367.05" font-size="3.15" text-anchor="middle" fill="#3c3c3c">Paga</text>
<line x1="318.12" x2="318.12" y1="362.30" y2="363.30" stroke="#333333" stroke-width="0.2"/>
<text transform="rotate(0.1 318.12 367.05)" x="318.12" y="367.05" font-size="3.15" text-anchor="middle" fill="#3c3c3c">Paga1</text>
<line x1="331.58" x2="331.58" y1="362.30" y2="363.30" stroke="#333333" stroke-width="0.2"/>
<text transform="rotate(0.1 331.58 367.05)" x="331.58" y="367.05" font-size="3.15" text-anchor="middle" fill="#3c3c3c">Pm1</text>
<line x1="345.04" x2="345.04" y1="362.30" y2="363.30" stroke="#333333" stroke-width="0.2"/>
<text transform="rotate(0.1 345.04 367.05)" x="345.04" y="367.05" font-size="3.15" text-anchor="middle" fill="#3c3c3c">Pm2</text>
<text transform="rotate(0.1 284.40 371.90)" x="284.40" y="371.90" font-size="3.9" text-anchor="middle" fill="#000">Species</text>
<text transform="translate(206.20,314.65) rotate(-89.9)" font-size="3.9" text-anchor="middle" fill="#000">Relative abundance</text>
<text transform="rotate(0.1 358.7 300.00)" x="358.7" y="300.00" font-size="3.8" fill="#000" stroke="#000" stroke-width="0.04">Family</text>
<rect x="358.8" y="302.80" width="5.7" height="5.2" fill="#000000"/>
<text transform="rotate(0.1 367.0 306.55)" x="367.0" y="306.55" font-size="3.25" fill="#000" stroke="#000" stroke-width="0.05">Flavobacteriaceae</text>
<rect x="358.8" y="309.00" width="5.7" height="5.2" fill="#E69F00"/>
<text transform="rotate(0.1 367.0 312.75)" x="367.0" y="312.75" font-size="3.25" fill="#000" stroke="#000" stroke-width="0.05">Other</text>
<rect x="358.8" y="315.20" width="5.7" height="5.2" fill="#56B4E9"/>
<text transform="rotate(0.1 367.0 318.95)" x="367.0" y="318.95" font-size="3.25" fill="#000" stroke="#000" stroke-width="0.05">Prevotellaceae</text>
<rect x="358.8" y="321.40" width="5.7" height="5.2" fill="#009E73"/>
<text transform="rotate(0.1 367.0 325.15)" x="367.0" y="325.15" font-size="3.25" fill="#000" stroke="#000" stroke-width="0.05">Tannerellaceae</text>
<rect x="358.8" y="327.60" width="5.7" height="5.2" fill="#8E1B0E"/>
<text transform="rotate(0.1 367.0 331.35)" x="367.0" y="331.35" font-size="3.25" fill="#000" stroke="#000" stroke-width="0.05">Weeksellaceae</text>
</g>
</g>
</svg>
</body></html>
